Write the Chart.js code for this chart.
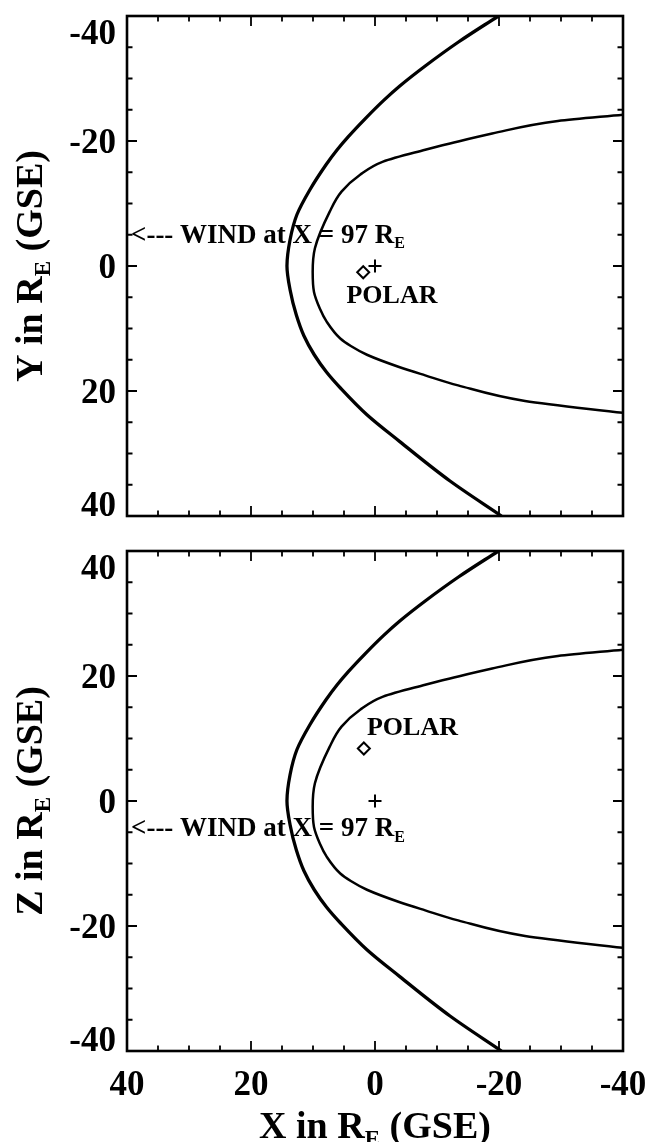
<!DOCTYPE html>
<html>
<head>
<meta charset="utf-8">
<script src="https://cdn.jsdelivr.net/npm/chart.js@4.4.0/dist/chart.umd.min.js"></script>
<style>
  body { margin: 0; background: #fff; }
  #wrap { position: relative; width: 650px; height: 1142px; }
  canvas { position: absolute; left: 0; }
</style>
</head>
<body>
<div id="wrap">
  <canvas id="xyChart" width="650" height="540" style="top:0"></canvas>
  <canvas id="xzChart" width="650" height="602" style="top:540px"></canvas>
</div>
<script>
// bow shock (outer curve), GSE coordinates in R_E
const bowX = [-19.9, -13.4, -8.1, -4.0, -1.4, 1.6, 4.3, 6.1, 7.9, 10.5, 12.6, 13.7, 14.2,
              13.7, 12.7, 11.45, 9.8, 7.8, 5.5, 1.3, -4.0, -12.1, -20.4];
const bowY = [-40, -35.8, -32.0, -28.8, -26.5, -23.55, -20.7, -18.6, -16.2, -12.2, -8.2, -4.2, 0,
              3.8, 7.8, 11.2, 14.2, 17.0, 19.6, 23.8, 28.1, 34.4, 40];
const bowZ = [40, 35.8, 32.0, 28.8, 26.5, 23.55, 20.7, 18.6, 16.2, 12.2, 8.2, 4.2, 0,
              -3.8, -7.8, -11.2, -14.2, -17.0, -19.6, -23.8, -28.1, -34.4, -40];

// magnetopause (inner curve)
const mpX = [-40, -29.5, -18.9, -12.1, -8.1, -1.3, 2.4, 5.4, 7.3, 9.7, 10.05,
             9.84, 8.9, 7.8, 5.6, 3.9, 1.3, -4.0, -8.1, -13.4, -24.2, -40];
const mpY = [-24.2, -23.2, -21.2, -19.6, -18.6, -16.7, -14.6, -11.9, -8.7, -2.8, 0.96,
             4.16, 6.8, 8.9, 11.6, 12.8, 14.2, 16.2, 17.5, 19.1, 21.6, 23.5];
const mpZ = [24.2, 23.2, 21.2, 19.6, 18.6, 16.7, 14.6, 11.9, 8.7, 2.8, -0.96,
             -4.16, -6.8, -8.9, -11.6, -12.8, -14.2, -16.2, -17.5, -19.1, -21.6, -23.5];

const earth = [0, 0];
const polarXY = [1.9, 1.0];
const polarXZ = [1.8, 8.4];
const windY = -5.2;
const windZ = -4.1;

const majorTicks = [-40, -20, 0, 20, 40];
const minorTicks = [-35, -30, -25, -15, -10, -5, 5, 10, 15, 25, 30, 35];

const FONT = "'Liberation Serif', 'Times New Roman', serif";

function pts(xs, ys) {
  return xs.map((x, i) => ({ x: x, y: ys[i] }));
}

// text with one subscript piece: parts = [[text, isSub], ...]
function drawParts(ctx, parts, x, y, size, align) {
  const subSize = Math.round(size * 0.6);
  let total = 0;
  parts.forEach(p => {
    ctx.font = "bold " + (p[1] ? subSize : size) + "px " + FONT;
    total += ctx.measureText(p[0]).width;
  });
  let cx = align === "center" ? x - total / 2 : x;
  ctx.textAlign = "left";
  ctx.textBaseline = "alphabetic";
  parts.forEach(p => {
    ctx.font = "bold " + (p[1] ? subSize : size) + "px " + FONT;
    ctx.fillText(p[0], cx, p[1] ? y + size * 0.22 : y);
    cx += ctx.measureText(p[0]).width;
  });
}

const framePlugin = {
  id: "frame",
  afterDraw(chart, args, opts) {
    const ctx = chart.ctx;
    const a = chart.chartArea;
    const xs = chart.scales.x;
    const ys = chart.scales.y;
    ctx.save();
    ctx.strokeStyle = "#000";
    ctx.fillStyle = "#000";

    // inward ticks on all four sides
    ctx.lineWidth = 1.8;
    const drawTicks = (vals, len) => {
      vals.forEach(v => {
        const px = xs.getPixelForValue(v);
        const py = ys.getPixelForValue(v);
        ctx.beginPath();
        ctx.moveTo(px, a.bottom); ctx.lineTo(px, a.bottom - len);
        ctx.moveTo(px, a.top); ctx.lineTo(px, a.top + len);
        ctx.moveTo(a.left, py); ctx.lineTo(a.left + len, py);
        ctx.moveTo(a.right, py); ctx.lineTo(a.right - len, py);
        ctx.stroke();
      });
    };
    drawTicks(majorTicks, 10);
    drawTicks(minorTicks, 5.5);

    // box
    ctx.lineWidth = 2.6;
    ctx.strokeRect(a.left, a.top, a.right - a.left, a.bottom - a.top);

    // y tick labels
    const fs = 35;
    const capH = 0.68 * fs;
    ctx.font = "bold " + fs + "px " + FONT;
    ctx.textAlign = "right";
    ctx.textBaseline = "alphabetic";
    majorTicks.forEach(v => {
      const py = ys.getPixelForValue(v);
      let base = py + capH / 2;
      if (base - capH < a.top + 3) base = a.top + 4 + capH;
      if (base > a.bottom + 1) base = a.bottom;
      ctx.fillText(String(v), a.left - 11, base);
    });

    // x tick labels + x title
    if (opts.xLabels) {
      ctx.textAlign = "center";
      majorTicks.forEach(v => {
        ctx.fillText(String(v), xs.getPixelForValue(v), a.bottom + 44);
      });
      drawParts(ctx, [["X in R", false], ["E", true], [" (GSE)", false]],
        (a.left + a.right) / 2, a.bottom + 87, 38, "center");
    }

    // y title, rotated
    ctx.save();
    ctx.translate(42, (a.top + a.bottom) / 2);
    ctx.rotate(-Math.PI / 2);
    drawParts(ctx, [[opts.axisName + " in R", false], ["E", true], [" (GSE)", false]], 0, 0, 38, "center");
    ctx.restore();

    // WIND arrow label
    const wy = ys.getPixelForValue(opts.windAt) + 9;
    drawParts(ctx, [["<--- WIND at X = 97 R", false], ["E", true]],
      xs.getPixelForValue(40) + 4, wy, 27, "left");

    // POLAR label
    ctx.font = "bold 26px " + FONT;
    ctx.textAlign = "left";
    ctx.fillText("POLAR", xs.getPixelForValue(opts.polarLabel[0]), ys.getPixelForValue(opts.polarLabel[1]));
    ctx.restore();
  }
};

function makeChart(id, yVals, mpVals, polar, cfg) {
  // curves run monotonically in Y, so interpolate along the y axis
  const curve = {
    showLine: true, borderColor: "#000", pointRadius: 0, fill: false,
    indexAxis: "y", cubicInterpolationMode: "monotone"
  };
  return new Chart(document.getElementById(id), {
    type: "scatter",
    data: {
      datasets: [
        Object.assign({ data: pts(bowX, yVals), borderWidth: 3.3 }, curve),
        Object.assign({ data: pts(mpX, mpVals), borderWidth: 2.5 }, curve),
        { data: [{ x: polar[0], y: polar[1] }], pointStyle: "rectRot", pointRadius: 6,
          borderColor: "#000", borderWidth: 2, backgroundColor: "#fff" },
        { data: [{ x: earth[0], y: earth[1] }], pointStyle: "cross", pointRadius: 6.5,
          borderColor: "#000", borderWidth: 2 }
      ]
    },
    options: {
      responsive: false,
      animation: false,
      devicePixelRatio: 1,
      layout: { padding: { top: cfg.padTop, right: 27, left: 0, bottom: 0 } },
      plugins: {
        legend: { display: false },
        tooltip: { enabled: false },
        frame: cfg.frame
      },
      scales: {
        x: {
          type: "linear", min: -40, max: 40, reverse: true,
          ticks: { display: false }, grid: { display: false }, border: { display: false },
          afterFit: s => { s.height = cfg.xHeight; }
        },
        y: {
          type: "linear", min: -40, max: 40, reverse: cfg.reverseY,
          ticks: { display: false }, grid: { display: false }, border: { display: false },
          afterFit: s => { s.width = 127; }
        }
      }
    },
    plugins: [framePlugin]
  });
}

makeChart("xyChart", bowY, mpY, polarXY, {
  padTop: 16, xHeight: 24, reverseY: true,
  frame: { axisName: "Y", xLabels: false, windAt: windY, polarLabel: [4.6, 5.9] }
});

makeChart("xzChart", bowZ, mpZ, polarXZ, {
  padTop: 11, xHeight: 91, reverseY: false,
  frame: { axisName: "Z", xLabels: true, windAt: windZ, polarLabel: [1.3, 10.6] }
});
</script>
</body>
</html>
